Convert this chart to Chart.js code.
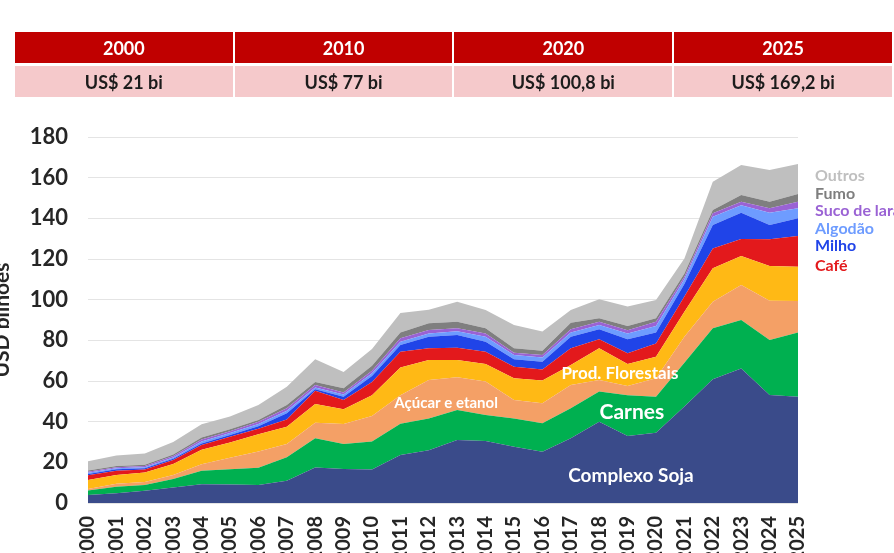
<!DOCTYPE html>
<html>
<head>
<meta charset="utf-8">
<script src="https://cdn.jsdelivr.net/npm/chart.js@4/dist/chart.umd.min.js"></script>
<style>
  html, body { margin: 0; padding: 0; width: 894px; height: 553px; overflow: hidden; background: #fff; font-family: Lato, "Open Sans", sans-serif; }
  #wrap { position: absolute; left: 0; top: 0; width: 894px; height: 565px; }
  #hdr { position: absolute; left: 15px; top: 32px; border-collapse: separate; border-spacing: 0; table-layout: fixed; }
  #hdr td { width: 219px; height: 31px; padding: 0; text-align: center; font-weight: 700; font-size: 18px; border-right: 2px solid #fff; }
  #hdr tr.h td { background: #C00000; color: #fff; border-bottom: 3px solid #fff; }
  #hdr tr.v td { background: #F5C9CB; color: #1c1c1c; }
</style>
</head>
<body>
<div id="wrap"><canvas id="c" width="894" height="565"></canvas></div>
<table id="hdr">
  <tr class="h" id="hrow"></tr>
  <tr class="v" id="vrow"></tr>
</table>
<script>
// ---- data ----
const years = ["2000","2001","2002","2003","2004","2005","2006","2007","2008","2009","2010","2011","2012","2013","2014","2015","2016","2017","2018","2019","2020","2021","2022","2023","2024","2025"];
const soja      = [3.9,4.8,6.0,7.6,9.2,9.1,8.9,11.0,17.5,16.7,16.5,23.6,26.0,31.0,30.5,27.7,25.2,31.8,40.0,33.0,34.6,47.4,60.8,66.2,53.1,52.3];
const carnes    = [2.2,3.2,2.8,4.2,6.7,7.5,8.4,11.5,14.3,12.3,13.8,15.4,15.6,14.7,12.8,13.9,14.0,14.8,14.8,20.0,17.7,21.6,25.1,23.8,27.1,31.5];
const acucar    = [0.8,1.5,1.5,2.0,3.1,5.7,8.0,6.5,7.7,9.9,12.5,14.0,18.9,16.1,16.4,9.1,9.8,11.4,5.7,4.5,9.0,12.8,13.1,17.2,19.3,15.5];
const florestais= [4.4,4.3,4.7,5.4,7.2,7.5,8.5,8.5,9.2,7.2,10.2,13.7,9.8,8.5,8.7,10.6,11.2,9.9,15.6,10.9,10.6,12.3,16.4,14.3,17.1,16.9];
const cafe      = [2.3,2.1,1.5,2.0,2.3,2.8,2.7,3.6,6.5,4.6,6.5,7.7,5.8,6.0,6.0,5.7,5.5,8.2,4.4,5.2,6.5,7.4,9.8,8.3,13.1,15.1];
const milho     = [0.7,0.7,0.6,0.6,0.8,0.9,1.3,3.0,0.8,1.6,3.0,3.3,5.7,6.3,4.9,3.7,3.8,5.7,4.9,6.9,5.4,6.2,11.5,13.0,7.0,8.7];
const algodao   = [0.6,0.5,0.5,0.6,1.0,0.9,1.1,1.3,0.8,1.1,1.3,1.6,1.6,1.9,2.5,2.1,2.1,2.0,2.1,2.9,3.2,2.3,4.1,3.6,6.1,4.9];
const suco      = [0.5,0.5,0.6,0.7,0.9,0.9,1.0,1.2,1.2,0.9,1.2,1.7,1.7,1.5,1.6,1.1,1.2,1.6,1.7,1.6,2.2,1.3,1.7,1.8,2.1,3.3];
const fumo      = [0.6,0.6,0.6,0.7,1.0,1.0,0.9,1.6,1.5,2.1,2.5,2.8,3.3,3.2,2.5,2.2,2.1,3.3,1.6,2.0,1.6,1.6,1.6,3.3,3.3,3.8];
const outros    = [4.5,5.1,5.5,6.2,6.5,6.2,7.4,9.0,11.2,8.0,8.2,9.7,6.6,9.8,9.0,11.4,9.4,6.2,9.4,9.6,9.0,7.4,13.9,14.7,15.6,14.7];

const seriesNames = ["Complexo Soja","Carnes","Açúcar e etanol","Prod. Florestais","Café","Milho","Algodão","Suco de laranja","Fumo","Outros"];
const seriesData  = [soja, carnes, acucar, florestais, cafe, milho, algodao, suco, fumo, outros];
const seriesColors= ["#3A4B8A","#00B050","#F4A066","#FFB915","#E3191C","#2044E8","#6E9CFF","#9A62D4","#7F7F7F","#BFBFBF"];

const headerYears  = ["2000","2010","2020","2025"];
const headerValues = ["US$ 21 bi","US$ 77 bi","US$ 100,8 bi","US$ 169,2 bi"];

const yTicks = [0,20,40,60,80,100,120,140,160,180];
const yTitle = "USD bilhões";

// right-side labels (top to bottom) — series index
const sideLabels = [9, 8, 7, 6, 5, 4];
// in-area labels: [text, x index, y value, font size]
const areaLabels = [
  ["Complexo Soja", 19.12, 13.3, 19],
  ["Carnes", 19.15, 44.8, 21],
  ["Prod. Florestais", 18.73, 63.9, 17],
  ["Açúcar e etanol", 12.61, 49.2, 15]
];

// ---- header table ----
const hrow = document.getElementById('hrow'), vrow = document.getElementById('vrow');
headerYears.forEach(t => { const td = document.createElement('td'); td.textContent = t; hrow.appendChild(td); });
headerValues.forEach(t => { const td = document.createElement('td'); td.textContent = t; vrow.appendChild(td); });

const FONT = 'Lato, "Open Sans", sans-serif';

const labelPlugin = {
  id: 'labels',
  afterDatasetsDraw(chart) {
    const ctx = chart.ctx, xs = chart.scales.x, ys = chart.scales.y;
    ctx.save();
    ctx.fillStyle = '#fff';
    ctx.textAlign = 'center';
    ctx.textBaseline = 'middle';
    areaLabels.forEach(([t, xi, yv, fs]) => {
      ctx.font = `700 ${fs}px ${FONT}`;
      ctx.fillText(t, xs.getPixelForValue(xi), ys.getPixelForValue(yv));
    });
    ctx.restore();
  },
  afterDraw(chart) {
    const ctx = chart.ctx, ca = chart.chartArea;
    ctx.save();
    ctx.font = `700 16px ${FONT}`;
    ctx.textAlign = 'left';
    ctx.textBaseline = 'middle';
    sideLabels.forEach((si, k) => {
      ctx.fillStyle = seriesColors[si];
      ctx.fillText(seriesNames[si], ca.right + 17, 176 + k * 17.5 + (k === 5 ? 2 : 0));
    });
    // y title (partly cut off at left edge)
    ctx.translate(9, (ca.top + ca.bottom) / 2);
    ctx.rotate(-Math.PI / 2);
    ctx.font = `700 21px ${FONT}`;
    ctx.fillStyle = '#262626';
    ctx.textAlign = 'center';
    ctx.textBaseline = 'alphabetic';
    ctx.fillText(yTitle, 0, 0);
    ctx.restore();
  }
};

new Chart(document.getElementById('c'), {
  type: 'line',
  data: {
    labels: years,
    datasets: seriesData.map((d, i) => ({
      label: seriesNames[i],
      data: d,
      backgroundColor: seriesColors[i],
      borderColor: seriesColors[i],
      borderWidth: 0,
      pointRadius: 0,
      tension: 0,
      fill: i === 0 ? 'origin' : '-1'
    }))
  },
  options: {
    responsive: false,
    animation: false,
    devicePixelRatio: 1,
    layout: { padding: { top: 137, right: 96, left: 0, bottom: 0 } },
    plugins: { legend: { display: false }, tooltip: { enabled: false } },
    scales: {
      x: {
        offset: false,
        grid: { display: false },
        border: { display: false },
        ticks: { autoSkip: false, maxRotation: 90, minRotation: 90, padding: 5, color: '#262626', font: { family: FONT, weight: '700', size: 20 } },
        afterFit(s) { s.height = 62; }
      },
      y: {
        stacked: true,
        min: 0, max: 180,
        afterBuildTicks(s) { s.ticks = yTicks.map(v => ({ value: v })); },
        grid: { color: '#E4E4E4', drawTicks: false },
        border: { display: false },
        ticks: { padding: 20, color: '#262626', font: { family: FONT, weight: '700', size: 22 } },
        afterFit(s) { s.width = 88; }
      }
    }
  },
  plugins: [labelPlugin]
});
</script>
</body>
</html>
